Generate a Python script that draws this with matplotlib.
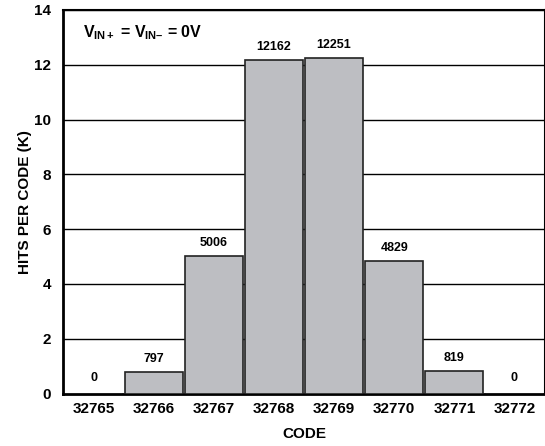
import matplotlib
matplotlib.use('Agg')
import matplotlib.pyplot as plt
import numpy as np

plt.rcParams['font.family'] = ['Liberation Sans', 'DejaVu Sans']
plt.rcParams['font.weight'] = 'bold'
plt.rcParams['mathtext.fontset'] = 'custom'
plt.rcParams['mathtext.rm'] = 'Liberation Sans:bold'
plt.rcParams['mathtext.it'] = 'Liberation Sans:bold'
plt.rcParams['mathtext.bf'] = 'Liberation Sans:bold'

# data
codes = ['32765', '32766', '32767', '32768', '32769', '32770', '32771', '32772']
hits = [0, 797, 5006, 12162, 12251, 4829, 819, 0]
hits_k = [h / 1000 for h in hits]

fig = plt.figure(figsize=(5.45, 4.46), dpi=100)
ax = fig.add_axes([0.1165, 0.1177, 0.8826, 0.86])

x = np.arange(len(codes))
ax.bar(x, hits_k, width=0.96, color='#bdbec2', edgecolor='#222222', linewidth=1.2, zorder=3)

# value labels above bars
for xi, h, hk in zip(x, hits, hits_k):
    off = 7 if h == 0 else 5
    ax.annotate(str(h), (xi, hk), xytext=(0, off), textcoords='offset points',
                ha='center', va='bottom', fontsize=9, fontweight='bold')

ax.set_xlim(-0.5, 7.5)
ax.set_ylim(0, 14)
ax.set_yticks(range(0, 15, 2))
ax.set_xticks(x)
ax.set_xticklabels(codes)
ax.tick_params(axis='both', length=0, labelsize=11)
ax.tick_params(axis='y', pad=9)
ax.tick_params(axis='x', pad=6)
for lab in ax.get_xticklabels() + ax.get_yticklabels():
    lab.set_fontweight('bold')

ax.grid(axis='y', color='black', linewidth=1.0, zorder=1)
ax.set_axisbelow(True)

ax.spines['left'].set_linewidth(2)
ax.spines['bottom'].set_linewidth(2)
ax.spines['top'].set_linewidth(1.5)
ax.spines['right'].set_linewidth(1.5)

ax.set_xlabel('CODE', fontsize=11, fontweight='bold', labelpad=8)
ax.set_ylabel('HITS PER CODE (K)', fontsize=11, fontweight='bold', labelpad=1.5)

vlabel = '$V_{IN+}$ = $V_{IN\u2013}$ = 0V'
ax.text(0.04, 0.928, vlabel, transform=ax.transAxes,
        fontsize=11.5, fontweight='bold', va='baseline', ha='left')

fig.savefig('out.png', dpi=100)
